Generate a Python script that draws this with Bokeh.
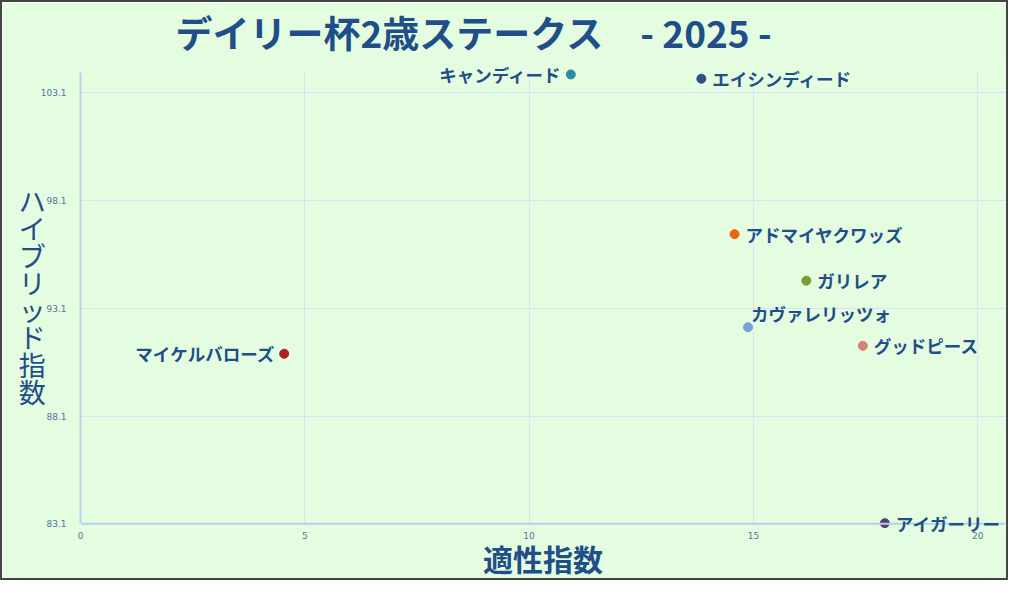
from bokeh.plotting import figure
from bokeh.models import ColumnDataSource, LabelSet, FixedTicker, Range1d, Span
from bokeh.embed import file_html
from bokeh.resources import INLINE
from bokeh.core.properties import value

# ---- data ----
names = ["キャンディード", "エイシンディード", "アドマイヤクワッズ", "ガリレア",
         "カヴァレリッツォ", "グッドピース", "マイケルバローズ", "アイガーリー"]
tekisei = [10.93, 13.84, 14.58, 16.18, 14.88, 17.44, 4.54, 17.93]
hybrid = [103.95, 103.75, 96.54, 94.38, 92.22, 91.36, 90.99, 83.13]
colors = ["#2b8ca3", "#2d4f8c", "#e8660c", "#7b9a35", "#7d9fd2", "#d4827c", "#b02121", "#5b3b78"]
label_side = ["left", "right", "right", "right", "above", "right", "left", "right"]
x_ticks = [0, 5, 10, 15, 20]
y_ticks = [83.1, 88.1, 93.1, 98.1, 103.1]
x_max = 20.62
y_bottom = 82.65
y_top = 104.69
y_axis_top = 104.03

title_text = "デイリー杯2歳ステークス\u3000- 2025 -"
x_title = "適性指数"
y_title = "ハイブリッド指数"

# ---- styles ----
BG = "#e4fde0"
NAVY = "#1f4e89"
GRID = "#d4e4f4"
AXIS = "#b8d0ec"
JP = "Noto Sans CJK JP"

x_off, y_off, aligns = [], [], []
for s in label_side:
    if s == "left":
        x_off.append(-9); y_off.append(0); aligns.append("right")
    elif s == "above":
        x_off.append(3); y_off.append(14); aligns.append("left")
    else:
        x_off.append(11); y_off.append(0); aligns.append("left")

src = ColumnDataSource(dict(name=names, x=tekisei, y=hybrid, color=colors,
                            xo=x_off, yo=y_off, al=aligns))

p = figure(width=1008, height=580, output_backend="svg", toolbar_location=None,
           x_range=Range1d(0, x_max), y_range=Range1d(y_bottom, y_top),
           min_border_left=78, min_border_right=5, min_border_top=56,
           min_border_bottom=49)
p.background_fill_color = BG
p.border_fill_color = BG
p.outline_line_color = None
p.styles = {"border": "2px solid #444444"}

# title
p.title.text = title_text
p.title.align = "left"
p.title.offset = 95
p.title.standoff = 0
p.title.text_font = JP
p.title.text_font_size = "37px"
p.title.text_font_style = "bold"
p.title.text_color = NAVY

p.xaxis.ticker = FixedTicker(ticks=x_ticks)
p.yaxis.ticker = FixedTicker(ticks=y_ticks)
for ax in (p.xaxis[0], p.yaxis[0]):
    ax.axis_line_color = AXIS
    ax.axis_line_width = 2
    ax.major_tick_line_color = None
    ax.minor_tick_line_color = None
    ax.major_label_text_font_size = "9px"
    ax.major_label_text_color = "#56739a"
    ax.major_label_text_font = "DejaVu Sans"
    ax.axis_label_text_font = JP
    ax.axis_label_text_color = NAVY
p.xaxis.axis_line_color = None
p.xaxis.major_label_standoff = -8
p.yaxis.major_label_standoff = 8
p.yaxis.bounds = (y_ticks[0], y_axis_top)

p.xaxis.axis_label = x_title
p.xaxis.axis_label_text_font_size = "30px"
p.xaxis.axis_label_text_font_style = "bold"
p.xaxis.axis_label_text_line_height = 0.9
p.xaxis.axis_label_standoff = -6

p.yaxis.axis_label = "\n".join(y_title)
p.yaxis.axis_label_orientation = "horizontal"
p.yaxis.axis_label_text_font_size = "27px"
p.yaxis.axis_label_text_font_style = "normal"
p.yaxis.axis_label_text_line_height = 0.7
p.yaxis.axis_label_standoff = -8

p.xgrid.grid_line_color = GRID
p.ygrid.grid_line_color = GRID
p.xgrid.cross_bounds = (y_ticks[0], y_axis_top)

p.add_layout(Span(location=y_ticks[0], dimension="width", line_color=AXIS, line_width=2))

p.scatter(x="x", y="y", source=src, size=9, fill_color="color", line_color="color")

labels = LabelSet(x="x", y="y", text="name", source=src, x_offset="xo", y_offset="yo",
                  text_align="al", text_baseline="middle", text_font=value(JP),
                  text_font_size="17.5px", text_font_style="bold", text_color=NAVY)
p.add_layout(labels)

open("out.html", "w").write(file_html(p, INLINE))
